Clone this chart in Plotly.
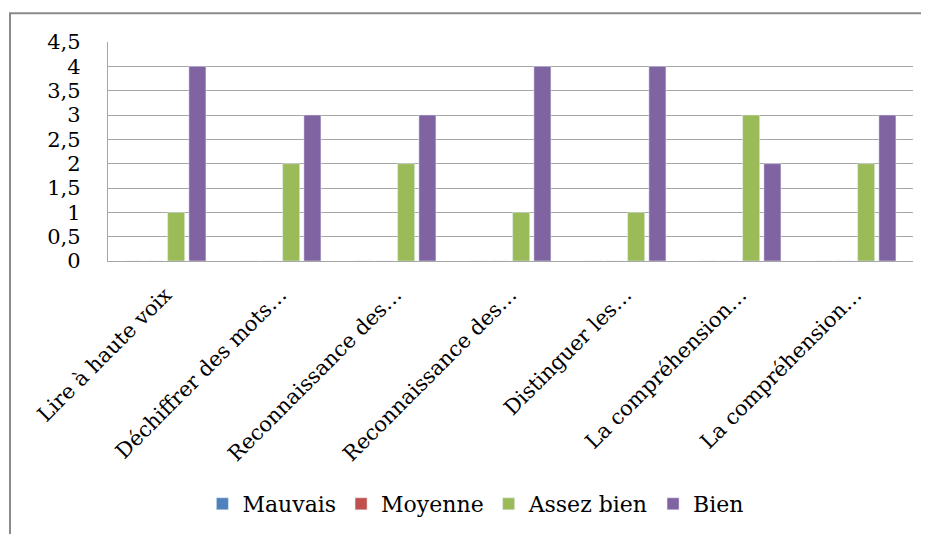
import plotly.graph_objects as go

categories = [
    "Lire à haute voix",
    "Déchiffrer des mots…",
    "Reconnaissance des…",
    "Reconnaissance des…",
    "Distinguer les…",
    "La compréhension…",
    "La compréhension…",
]
mauvais = [0, 0, 0, 0, 0, 0, 0]
moyenne = [0, 0, 0, 0, 0, 0, 0]
assez_bien = [1, 2, 2, 1, 1, 3, 2]
bien = [4, 3, 3, 4, 4, 2, 3]

series = [
    ("Mauvais", mauvais, "#4F81BD"),
    ("Moyenne", moyenne, "#C0504D"),
    ("Assez bien", assez_bien, "#9BBB59"),
    ("Bien", bien, "#8064A2"),
]

pos = list(range(len(categories)))  # labels repeat, so use positions

fig = go.Figure()
for name, vals, color in series:
    fig.add_trace(go.Bar(x=pos, y=vals, name=name, marker_color=color))

# page body adds 8px margin, so figure is 8px smaller and shifted
fig.update_layout(
    width=921, height=526,
    barmode="group", bargap=0.26, bargroupgap=0.2,
    separators=", ",
    paper_bgcolor="white", plot_bgcolor="white",
    font=dict(family="DejaVu Serif", size=21, color="black"),
    margin=dict(l=100, r=16, t=34, b=272),
    legend=dict(orientation="h", x=0.457, xanchor="center", y=-1.1, yanchor="middle",
                font=dict(size=22), traceorder="normal"),
)
fig.update_xaxes(
    tickvals=pos, ticktext=categories, tickangle=-45, range=[-0.5, 6.5],
    showgrid=False, showline=True, linecolor="#a6a6a6", linewidth=1.3,
    ticks="", ticklabelstandoff=12,
)
fig.update_yaxes(
    range=[0, 4.5], dtick=0.5, showgrid=True, gridcolor="#a6a6a6", gridwidth=1.3,
    showline=True, linecolor="#a6a6a6", linewidth=1.3, zeroline=False,
    ticks="", ticklabelstandoff=22,
)

# outer chart frame (cut off at right and bottom in the reference)
fig.add_shape(type="rect", xref="paper", yref="paper",
              x0=(2 - 100) / 805, x1=1.2, y0=-3, y1=(254 - 5) / 220,
              line=dict(color="#8a8a8a", width=2), layer="below")

fig.write_html("out.html")
